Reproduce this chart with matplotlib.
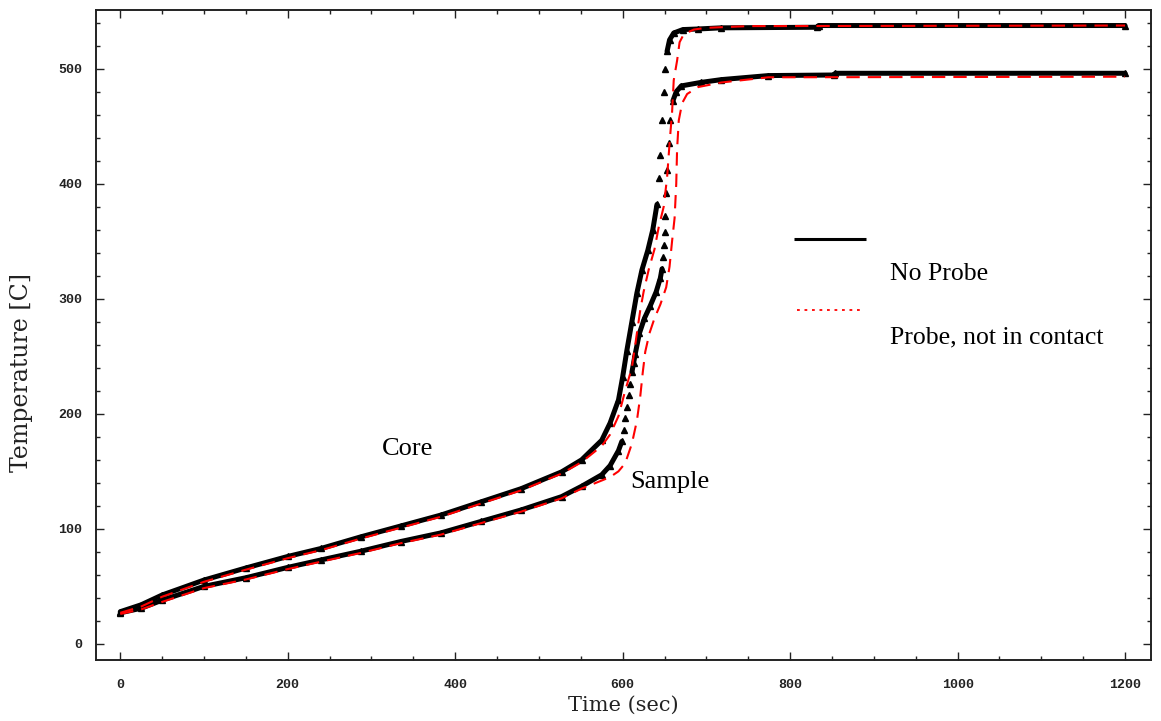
import numpy as np
import matplotlib
matplotlib.use("Agg")
import matplotlib.pyplot as plt
from matplotlib.ticker import MultipleLocator

plt.rcParams['lines.scale_dashes'] = False

# ---- data ----
core_noprobe_t = [0, 25, 50, 100, 150, 200, 240, 287, 335, 383, 431, 479, 527, 551, 575, 585,
                  595, 600, 605, 611, 617, 623, 630, 636, 641, 643, 645, 647, 649, 651, 653,
                  656, 661, 672, 690, 718, 832, 834, 1200]
core_noprobe_T = [28, 34, 42.5, 55.5, 66, 76, 83, 93, 102.5, 112, 123.5, 135, 149.5, 160, 177, 192,
                  212, 232, 255, 280, 305, 325, 342, 360, 382, 405, 425, 455, 480, 500, 515,
                  525, 531, 534, 534.5, 535.5, 536, 537.5, 537.5]

sample_noprobe_t = [0, 25, 50, 100, 150, 200, 240, 287, 335, 383, 431, 479, 527, 551, 575, 585,
                    595, 599, 601, 603, 605, 607, 609, 611, 613, 615, 620, 626, 633, 640, 645,
                    647, 648, 649, 650, 651, 652, 653, 655, 657, 660, 664, 670, 693, 718, 774,
                    852, 854, 1200]
sample_noprobe_T = [27, 31, 38, 50, 57.5, 66.5, 73, 80.5, 89, 96.5, 106.5, 116.5, 128, 137, 147, 155,
                    168, 176, 186, 196, 206, 216, 226, 236, 244, 252, 270, 283, 294, 306, 318,
                    326, 336, 347, 358, 372, 392, 412, 435, 455, 472, 480, 485, 488, 490.5, 494,
                    494.5, 496, 496]

core_probe_t = [0, 25, 50, 100, 150, 200, 240, 287, 335, 383, 431, 479, 527, 551, 575, 585,
                595, 603, 611, 617, 621, 625, 631, 638, 643, 649, 653, 656, 659, 661, 665,
                668, 673, 685, 700, 750, 1200]
core_probe_T = [27, 32.5, 41, 54, 64.5, 74.5, 81.5, 91.5, 101, 110.5, 122, 133.5, 148, 158, 172, 182,
                198, 220, 240, 270, 290, 306, 325, 343, 362, 380, 405, 435, 462, 490, 507,
                523, 530, 534, 535.5, 537, 537.5]

sample_probe_t = [0, 25, 50, 100, 150, 200, 240, 287, 335, 383, 431, 479, 527, 551, 575, 585,
                  595, 603, 611, 617, 621, 624, 627, 632, 638, 645, 652, 656, 659, 662, 664,
                  665, 667, 671, 677, 690, 718, 774, 1200]
sample_probe_T = [26, 30, 36.5, 48.5, 56, 65, 71.5, 79, 87.5, 95, 105, 115, 126.5, 135, 142, 145,
                  150, 157, 174, 194, 215, 236, 254, 270, 283, 295, 310, 328, 350, 370, 400,
                  430, 455, 470, 478, 484, 488, 492.5, 493]


def break_steep(t, T, max_slope=4.8):
    """Insert gaps where the curve is very steep, so only the markers show there."""
    t = np.asarray(t, float)
    T = np.asarray(T, float)
    xs, ys = [t[0]], [T[0]]
    for i in range(1, len(t)):
        if abs(T[i] - T[i - 1]) / max(t[i] - t[i - 1], 1e-9) > max_slope:
            xs.append(np.nan)
            ys.append(np.nan)
        xs.append(t[i])
        ys.append(T[i])
    return np.array(xs), np.array(ys)


fig = plt.figure(figsize=(11.61, 7.21), dpi=100)
ax = fig.add_axes([96 / 1161, 61 / 721, 1055 / 1161, 650 / 721])

for t, T in [(core_noprobe_t, core_noprobe_T), (sample_noprobe_t, sample_noprobe_T)]:
    xs, ys = break_steep(t, T)
    ax.plot(xs, ys, color='black', lw=3.6, solid_capstyle='round', zorder=2)
    ax.plot(t, T, linestyle='none', marker='^', ms=4.5, color='black', zorder=2)

for t, T in [(core_probe_t, core_probe_T), (sample_probe_t, sample_probe_T)]:
    ax.plot(t, T, color='#ff0000', lw=1.5, dashes=(9.6, 5.8), zorder=3)

ax.set_xlim(-29, 1231)
ax.set_ylim(-14, 551)

ax.xaxis.set_major_locator(MultipleLocator(200))
ax.xaxis.set_minor_locator(MultipleLocator(50))
ax.yaxis.set_major_locator(MultipleLocator(100))
ax.yaxis.set_minor_locator(MultipleLocator(20))

ax.tick_params(which='both', direction='in', top=True, right=True, width=1.0, color='#222222')
ax.tick_params(which='major', length=5.5)
ax.tick_params(which='minor', length=3)
ax.tick_params(axis='x', which='major', pad=14)
ax.tick_params(axis='y', which='major', pad=10)
for lab in ax.get_xticklabels() + ax.get_yticklabels():
    lab.set_fontfamily('Liberation Mono')
    lab.set_fontweight('bold')
    lab.set_fontsize(9.5)
    lab.set_color('#222222')

for s in ax.spines.values():
    s.set_linewidth(1.4)
    s.set_color('#222222')

ax.set_xlabel('Time (sec)', family='DejaVu Serif', fontsize=15, labelpad=3, color='#222222')
ax.set_ylabel('Temperature [C]', family='DejaVu Serif', fontsize=17, color='#222222')
ax.yaxis.set_label_coords(-0.0597, 0.443)

serif = 'Liberation Serif'
ax.text(0.2708, 0.3154, 'Core', transform=ax.transAxes, family=serif, fontsize=19,
        ha='left', va='baseline')
ax.text(0.5062, 0.2650, 'Sample', transform=ax.transAxes, family=serif, fontsize=19,
        ha='left', va='baseline')
ax.text(0.7526, 0.5846, 'No Probe', transform=ax.transAxes, family=serif, fontsize=18.5,
        ha='left', va='baseline')
ax.text(0.7526, 0.4877, 'Probe, not in contact', transform=ax.transAxes, family=serif,
        fontsize=18.5, ha='left', va='baseline')

ax.plot([0.6616, 0.7299], [0.6477, 0.6477], transform=ax.transAxes, color='black', lw=2.2,
        solid_capstyle='butt')
ax.plot([0.6645, 0.7242], [0.5385, 0.5385], transform=ax.transAxes, color='#ff0000', lw=1.3,
        dashes=(2.0, 3.4))

fig.savefig('out.png', dpi=100)
